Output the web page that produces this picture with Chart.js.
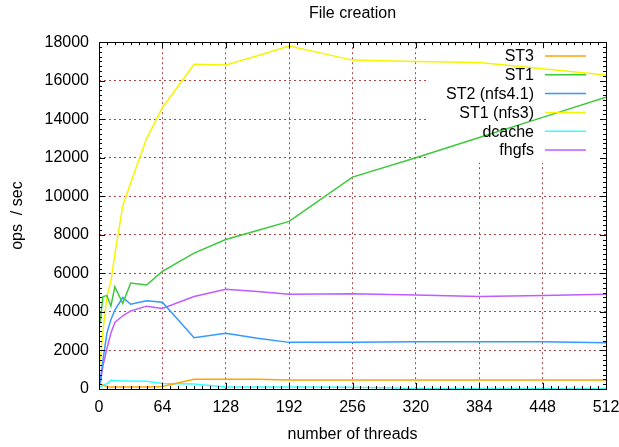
<!DOCTYPE html>
<html>
<head>
<meta charset="utf-8">
<script src="https://cdn.jsdelivr.net/npm/chart.js@4.4.1/dist/chart.umd.min.js"></script>
<style>
  html, body { margin: 0; padding: 0; background: #fff; }
  #wrap { width: 619px; height: 447px; }
</style>
</head>
<body>
<div id="wrap"><canvas id="chart" width="619" height="447"></canvas></div>
<script>
// thread counts on the x axis
const threads = [1, 4, 8, 12, 16, 24, 32, 48, 64, 96, 128, 160, 192, 256, 320, 384, 448, 512];

// ops / sec per file system
const st3     = [280, 200, 120, 110, 110, 110, 110, 110, 130, 500, 510, 510, 470, 470, 470, 470, 470, 470];
const st1     = [3400, 4800, 4850, 4300, 5300, 4450, 5500, 5400, 6100, 7050, 7760, 8230, 8700, 11000, 12000, 13050, 14100, 15150];
const st2     = [300, 1500, 2900, 3600, 4100, 4750, 4400, 4575, 4500, 2660, 2890, 2630, 2420, 2420, 2450, 2450, 2450, 2400];
const st1nfs3 = [1300, 3000, 4800, 5600, 7000, 9500, 10700, 13000, 14600, 16850, 16820, 17300, 17800, 17070, 17000, 16950, 16620, 16300];
const dcache  = [100, 180, 280, 450, 440, 420, 420, 400, 290, 260, 110, 100, 100, 90, 30, 30, 30, 30];
const fhgfs   = [200, 1200, 2100, 2900, 3450, 3800, 4050, 4300, 4180, 4800, 5180, 5060, 4920, 4950, 4880, 4800, 4850, 4920];

const xTicks = [0, 64, 128, 192, 256, 320, 384, 448, 512];
const yTicks = [0, 2000, 4000, 6000, 8000, 10000, 12000, 14000, 16000, 18000];

const series = [
  { label: 'ST3',          values: st3,     color: '#ffa500' },
  { label: 'ST1',          values: st1,     color: '#3cc83c' },
  { label: 'ST2 (nfs4.1)', values: st2,     color: '#3399ff' },
  { label: 'ST1 (nfs3)',   values: st1nfs3, color: '#f5f500' },
  { label: 'dcache',       values: dcache,  color: '#33ffff' },
  { label: 'fhgfs',        values: fhgfs,   color: '#c05cff' }
];

const FONT = 'Liberation Sans, Arial, sans-serif';

// gnuplot style frame: white key box, border, tick marks, key
const frame = {
  id: 'frame',
  beforeDatasetsDraw(chart) {
    const ctx = chart.ctx;
    const a = chart.chartArea;
    ctx.save();
    ctx.fillStyle = '#fff';
    ctx.fillRect(428, a.top + 0.5, a.right - 428, 120);
    ctx.restore();
  },
  afterDraw(chart) {
    const ctx = chart.ctx;
    const a = chart.chartArea;
    const xs = chart.scales.x, ys = chart.scales.y;
    ctx.save();
    ctx.strokeStyle = '#000';
    ctx.lineWidth = 1;
    ctx.beginPath();
    for (let v = 0; v <= 512; v += 8) {
      const px = Math.round(xs.getPixelForValue(v)) + 0.5;
      const len = v % 64 === 0 ? 6 : 3;
      ctx.moveTo(px, a.bottom); ctx.lineTo(px, a.bottom - len);
      ctx.moveTo(px, a.top); ctx.lineTo(px, a.top + len);
    }
    for (let v = 0; v <= 18000; v += 250) {
      const py = Math.round(ys.getPixelForValue(v)) + 0.5;
      const len = v % 2000 === 0 ? 6 : 3;
      ctx.moveTo(a.left, py); ctx.lineTo(a.left + len, py);
      ctx.moveTo(a.right, py); ctx.lineTo(a.right - len, py);
    }
    ctx.stroke();
    ctx.strokeRect(Math.round(a.left) + 0.5, Math.round(a.top) + 0.5,
                   Math.round(a.right - a.left), Math.round(a.bottom - a.top));

    // key
    ctx.font = '16px ' + FONT;
    ctx.textAlign = 'right';
    ctx.textBaseline = 'middle';
    series.forEach((s, i) => {
      const y = 57 + i * 18.8;
      ctx.fillStyle = '#000';
      ctx.fillText(s.label, 534, y);
      ctx.strokeStyle = s.color;
      ctx.lineWidth = 1.5;
      ctx.beginPath();
      ctx.moveTo(545, y - 1); ctx.lineTo(586, y - 1);
      ctx.stroke();
    });
    ctx.restore();
  }
};

const gridStyle = {
  color: 'rgba(160, 40, 40, 0.85)',
  lineWidth: 1,
  drawTicks: false
};

new Chart(document.getElementById('chart'), {
  type: 'line',
  data: {
    datasets: series.map(s => ({
      label: s.label,
      data: threads.map((t, i) => ({ x: t, y: s.values[i] })),
      borderColor: s.color,
      backgroundColor: s.color,
      borderWidth: 1.5,
      pointRadius: 0,
      tension: 0,
      fill: false
    }))
  },
  options: {
    responsive: false,
    animation: false,
    events: [],
    layout: { padding: { left: 0, right: 13, top: 0, bottom: 0 } },
    plugins: {
      legend: { display: false },
      tooltip: { enabled: false },
      title: {
        display: true,
        text: 'File creation',
        fullSize: false,
        color: '#000',
        font: { family: FONT, size: 16, weight: 'normal' },
        padding: { top: 4, bottom: 19 }
      }
    },
    scales: {
      x: {
        type: 'linear',
        min: 0,
        max: 512,
        afterFit: s => { s.height = 58; s.paddingLeft = 0; s.paddingRight = 0; },
        afterBuildTicks: s => { s.ticks = xTicks.map(v => ({ value: v })); },
        grid: gridStyle,
        border: { display: false, dash: [2, 3] },
        ticks: {
          color: '#000',
          padding: 9,
          maxRotation: 0,
          font: { family: FONT, size: 16 }
        },
        title: {
          display: true,
          text: 'number of threads',
          color: '#000',
          font: { family: FONT, size: 16 },
          padding: { top: 0, bottom: 3 }
        }
      },
      y: {
        min: 0,
        max: 18000,
        afterFit: s => { s.width = 99; s.paddingTop = 0; s.paddingBottom = 0; },
        afterBuildTicks: s => { s.ticks = yTicks.map(v => ({ value: v })); },
        grid: gridStyle,
        border: { display: false, dash: [2, 3] },
        ticks: {
          color: '#000',
          padding: 10,
          font: { family: FONT, size: 16 },
          callback: v => String(v)
        },
        title: {
          display: true,
          text: 'ops  / sec',
          color: '#000',
          font: { family: FONT, size: 16 },
          padding: { top: 8, bottom: 0 }
        }
      }
    }
  },
  plugins: [frame]
});
</script>
</body>
</html>
